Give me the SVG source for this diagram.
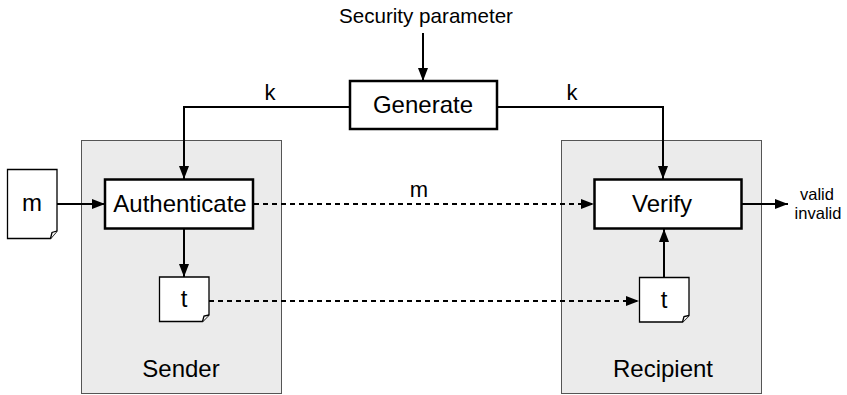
<svg xmlns="http://www.w3.org/2000/svg" width="847" height="395" viewBox="0 0 847 395">
<style>
text{font-family:"Liberation Sans",Arial,sans-serif;fill:#000;}
.lg{font-size:24px;text-anchor:middle;}
.md{font-size:22px;text-anchor:middle;}
.sm{font-size:16.5px;text-anchor:middle;}
.panel{fill:#ebebeb;stroke:#555;stroke-width:1;}
.box{fill:#fff;stroke:#000;stroke-width:2.5;}
.doc{fill:#fff;stroke:#000;stroke-width:1.3;}
.ln{fill:none;stroke:#000;stroke-width:2;}
.dash{fill:none;stroke:#000;stroke-width:2;stroke-dasharray:5,4;}
</style>
<defs>
<marker id="ah" viewBox="0 0 13 10" refX="13" refY="5" markerWidth="13" markerHeight="10" markerUnits="userSpaceOnUse" orient="auto">
<path d="M0,0 L13,5 L0,10 Z" fill="#000"/>
</marker>
</defs>
<rect width="847" height="395" fill="#fff"/>
<g id="sender">
<rect class="panel" x="81.5" y="140.5" width="200" height="253"/>
<text class="lg" x="181" y="377">Sender</text>
</g>
<g id="recipient">
<rect class="panel" x="561.5" y="140.5" width="200" height="253"/>
<text class="lg" x="663" y="377">Recipient</text>
</g>
<g id="security">
<text style="font-size:20.6px;text-anchor:middle" x="426" y="23">Security parameter</text>
</g>
<g id="generate">
<rect class="box" x="350" y="81" width="147" height="48"/>
<text class="lg" x="423" y="113">Generate</text>
</g>
<g id="authenticate">
<rect class="box" x="105" y="179.5" width="148" height="49"/>
<text class="lg" x="180" y="212">Authenticate</text>
</g>
<g id="verify">
<rect class="box" x="594.5" y="179.5" width="147" height="49"/>
<text class="lg" x="662" y="212">Verify</text>
</g>
<g id="m-doc">
<path class="doc" d="M7.5,169.5 H57 V231 L50.5,238.5 H7.5 Z"/>
<path class="doc" d="M50.5,238.5 L52,232.5 L57,231"/>
<text class="lg" x="32" y="211">m</text>
</g>
<g id="t-sender">
<path class="doc" d="M159.5,277 H209 V315 L202.5,321.5 H159.5 Z"/>
<path class="doc" d="M202.5,321.5 L204,316 L209,315"/>
<text class="lg" x="184" y="307">t</text>
</g>
<g id="t-recipient">
<path class="doc" d="M639.5,277.5 H689 V315.5 L682.5,322 H639.5 Z"/>
<path class="doc" d="M682.5,322 L684,316.5 L689,315.5"/>
<text class="lg" x="664" y="308">t</text>
</g>
<g id="result">
<text class="sm" x="817" y="200">valid</text>
<text class="sm" x="818" y="219">invalid</text>
</g>
<g id="connectors">
<line class="ln" x1="423" y1="33" x2="423" y2="81" marker-end="url(#ah)"/>
<polyline class="ln" points="350,107 184,107 184,179" marker-end="url(#ah)"/>
<polyline class="ln" points="497,107 663,107 663,179" marker-end="url(#ah)"/>
<line class="ln" x1="57" y1="204" x2="105" y2="204" marker-end="url(#ah)"/>
<line class="ln" x1="184" y1="228.5" x2="184" y2="277" marker-end="url(#ah)"/>
<line class="dash" x1="254" y1="204" x2="594" y2="204" marker-end="url(#ah)"/>
<line class="dash" x1="209" y1="301" x2="639" y2="301" marker-end="url(#ah)"/>
<line class="ln" x1="664" y1="277.5" x2="664" y2="229" marker-end="url(#ah)"/>
<line class="ln" x1="742" y1="204" x2="788" y2="204" marker-end="url(#ah)"/>
<text class="md" x="270" y="100">k</text>
<text class="md" x="572" y="100">k</text>
<text class="md" x="419" y="197">m</text>
</g>
</svg>
